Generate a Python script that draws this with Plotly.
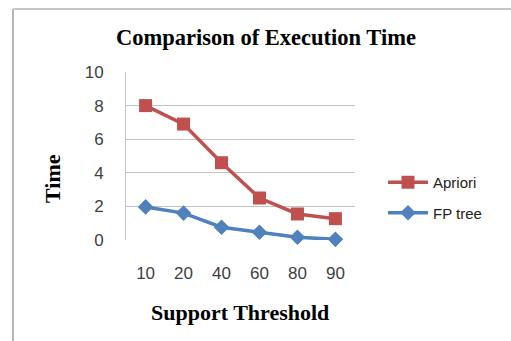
import plotly.graph_objects as go

categories = ["10", "20", "40", "60", "80", "90"]
apriori = [8.0, 6.9, 4.6, 2.5, 1.55, 1.27]
fp_tree = [1.97, 1.6, 0.76, 0.46, 0.16, 0.04]

# plot area in pixels: x 126..355, y 72..240
PL, PR, PT, PB = 126, 355, 72, 240
W, H = 511, 341


def px(x):
    return (x - PL) / (PR - PL)


def py(y):
    return (PB - y) / (PB - PT)


fig = go.Figure()
fig.add_trace(go.Scatter(
    x=categories, y=apriori, name="Apriori", mode="lines+markers",
    line=dict(color="#C0504D", width=3.5),
    marker=dict(symbol="square", size=13, color="#C0504D"),
    legendgroup="a", cliponaxis=False))
fig.add_trace(go.Scatter(
    x=categories, y=fp_tree, name="FP tree", mode="lines+markers",
    line=dict(color="#4F81BD", width=3.5),
    marker=dict(symbol="diamond", size=12, color="#4F81BD"),
    legendgroup="b", cliponaxis=False))

serif = dict(family="Liberation Serif", size=22, color="black")

fig.update_layout(
    width=W, height=H,
    margin=dict(l=PL, r=W - PR, t=PT, b=H - PB),
    paper_bgcolor="white", plot_bgcolor="white",
    title=dict(text="<b>Comparison of Execution Time</b>", x=266 / W, xanchor="center",
               y=1 - 37 / H, yanchor="middle",
               font=dict(family="Liberation Serif", size=22.5, color="black")),
    xaxis=dict(type="category", showgrid=False, showline=False, zeroline=False,
               ticks="", tickfont=dict(family="Liberation Sans", size=17, color="#404040"),
               ticklabelstandoff=21),
    yaxis=dict(range=[0, 10], dtick=2, showgrid=True, gridcolor="#c4c4c4", gridwidth=1,
               showline=True, linecolor="#c4c4c4", linewidth=1, zeroline=False,
               ticks="", tickfont=dict(family="Liberation Sans", size=17, color="#404040"),
               ticklabelstandoff=18),
    showlegend=True,
    legend=dict(x=px(383), y=py(166), xanchor="left", yanchor="top",
                font=dict(family="Liberation Sans", size=15, color="#222"),
                tracegroupgap=8, traceorder="grouped", itemwidth=40,
                bgcolor="rgba(0,0,0,0)"),
    annotations=[
        dict(text="<b>Time</b>", textangle=-90, x=px(52), y=py(179),
             xref="paper", yref="paper", xanchor="center", yanchor="middle",
             showarrow=False, font=serif),
        dict(text="<b>Support Threshold</b>", x=px(240), y=py(312),
             xref="paper", yref="paper", xanchor="center", yanchor="middle",
             showarrow=False, font=serif),
    ],
)

fig.add_shape(type="line", xref="paper", yref="paper",
              x0=px(13), x1=px(13), y0=py(9), y1=py(345),
              line=dict(color="#b4b4b4", width=2))
fig.add_shape(type="line", xref="paper", yref="paper",
              x0=px(13), x1=px(515), y0=py(9), y1=py(9),
              line=dict(color="#c8c8c8", width=2))

fig.write_html("out.html", config={"displayModeBar": False},
               post_script="document.body.style.margin='0';")
